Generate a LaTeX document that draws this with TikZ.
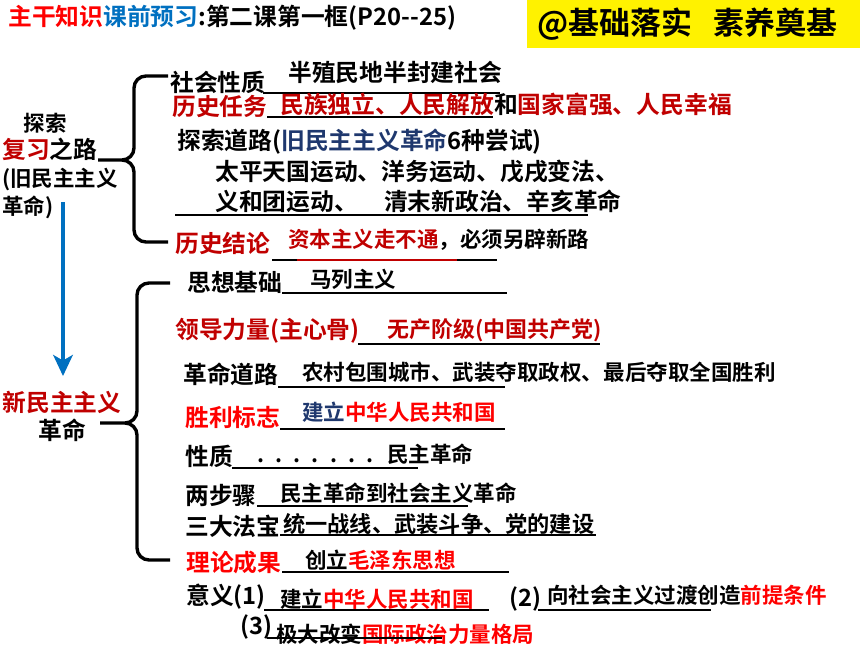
\documentclass[tikz,border=0pt]{standalone}
\usepackage{fontspec}
\setmainfont{Noto Sans CJK SC}[BoldFont={* Bold}]
\usetikzlibrary{arrows.meta}

\definecolor{keyred}{RGB}{192,0,0}
\definecolor{hotred}{RGB}{255,0,0}
\definecolor{lessonblue}{RGB}{0,112,192}
\definecolor{oldblue}{RGB}{31,56,110}

\tikzset{
  topic/.style={anchor=west, inner sep=0pt, font=\bfseries\fontsize{16.9}{19.9}\selectfont},
  answer/.style={anchor=west, inner sep=0pt, font=\bfseries\fontsize{15.3}{18}\selectfont},
  blankline/.style={line width=1.4pt},
  bracket/.style={line width=2.4pt, line join=round},
  downarrow/.style={lessonblue, line width=2.2pt, -{Stealth[length=15pt, width=14pt, inset=4pt]}},
}

\begin{document}
\begin{tikzpicture}[x=0.025cm, y=-0.025cm]
\useasboundingbox (0,0) rectangle (860,645);

% header
\node [topic] (title) at (8,18) {{\color{hotred}主干知识}{\color{lessonblue}课前预习}:第二课第一框(P20-{}-25)};
\fill [yellow] (527,0) rectangle (860,48);
\node [topic, font=\bfseries\fontsize{22}{26}\selectfont] (motto) at (537,24) {@基础落实\hspace{0.7em}素养奠基};

% left side
\node [topic, align=left] (oldroad) at (2,166) {\hspace*{0.9em}{\fontsize{15.3}{18}\selectfont 探索}\\{\color{keyred}复习}之路\\{\fontsize{15.3}{18}\selectfont (旧民主主义}\\{\fontsize{15.3}{18}\selectfont 革命)}};
\coordinate (arrowtop) at (63,202);
\coordinate (arrowtip) at (63,376);
\draw [downarrow] (arrowtop) -- (arrowtip);
\node [topic, anchor=center, align=center] (newroad) at (62,416) {{\color{keyred}新民主主义}\\革命};

% brackets
\draw [bracket] (168,76) -- (146,76) to[out=180,in=90] (134,88) -- (134,148)
  to[out=-90,in=0] (122,160) -- (98,160);
\draw [bracket] (122,160) to[out=0,in=90] (134,172) -- (134,230)
  to[out=-90,in=180] (146,242) -- (168,242);
\draw [bracket] (170,283) -- (149,283) to[out=180,in=90] (137,295) -- (137,411)
  to[out=-90,in=0] (125,423) -- (100,423);
\draw [bracket] (125,423) to[out=0,in=90] (137,435) -- (137,548)
  to[out=-90,in=180] (149,560) -- (170,560);

% old democratic revolution
\node [topic] (nature) at (170,82) {社会性质};
\node [topic] (natureans) at (288,72) {半殖民地半封建社会};
\draw [blankline] (263,93) -- (500,93);
\node [topic, keyred] (task) at (172,106) {历史任务};
\node [topic] (taskans) at (280,104) {{\color{keyred}民族独立、人民解放}和{\color{keyred}国家富强、人民幸福}};
\draw [blankline] (267,117) -- (493,117);
\node [topic] (explore) at (177,142) {探索道路({\color{oldblue}旧民主主义革命}6种尝试)};
\node [topic] (tries1) at (215,172) {太平天国运动、洋务运动、戊戌变法、};
\node [topic] (tries2) at (215,201) {义和团运动、\hspace{1.1em}清末新政治、辛亥革命};
\draw [blankline] (175,215) -- (588,215);
\node [topic, keyred] (lesson) at (175,243) {历史结论};
\node [answer] (lessonans) at (288,240) {{\color{keyred}资本主义走不通}，必须另辟新路};
\draw [blankline] (272,260) -- (497,260);
\draw [blankline, keyred] (297,260) -- (457,260);

% new democratic revolution
\node [topic] (basis) at (187,282) {思想基础};
\node [answer] (basisans) at (310,279) {马列主义};
\draw [blankline] (282,293) -- (507,293);
\node [topic, keyred] (leader) at (175,331) {领导力量(主心骨)};
\node [answer, keyred, font=\bfseries\fontsize{15.6}{18}\selectfont] (leaderans) at (387,330) {无产阶级(中国共产党)};
\draw [blankline] (358,344) -- (600,344);
\node [topic] (path) at (183,374) {革命道路};
\node [answer] (pathans) at (302,372) {农村包围城市、武装夺取政权、最后夺取全国胜利};
\draw [blankline] (278,387) -- (505,387);
\node [topic, hotred] (victory) at (185,417) {胜利标志};
\node [answer] (victoryans) at (302,412) {{\color{oldblue}建立}{\color{hotred}中华人民共和国}};
\draw [blankline] (280,429) -- (505,429);
\node [topic] (kind) at (185,456) {性质};
\node [answer] (dots) at (257,461) {.\hspace{0.52em}.\hspace{0.52em}.\hspace{0.52em}.\hspace{0.52em}.\hspace{0.52em}.\hspace{0.52em}.};
\node [answer] (kindans) at (387,454) {民主革命};
\draw [blankline] (232,468) -- (418,468);
\node [topic] (steps) at (185,495) {两步骤};
\node [answer] (stepsans) at (280,493) {民主革命到社会主义革命};
\draw [blankline] (257,506) -- (468,506);
\node [topic] (weapons) at (185,526) {三大法宝};
\node [answer, font=\bfseries\fontsize{15.8}{18}\selectfont] (weaponsans) at (283,524) {统一战线、武装斗争、党的建设};
\draw [blankline] (280,535) -- (596,535);
\node [topic, hotred] (theory) at (186,562) {理论成果};
\node [answer] (theoryans) at (305,560) {创立{\color{hotred}毛泽东思想}};
\draw [blankline] (282,572) -- (509,572);
\node [topic] (meaning) at (186,597) {意义(1)};
\node [answer] (meaning1) at (280,599) {建立{\color{hotred}中华人民共和国}};
\draw [blankline] (264,610) -- (489,610);
\node [topic] (second) at (509,599) {(2)};
\node [answer] (meaning2) at (547,595) {向社会主义过渡创造{\color{hotred}前提条件}};
\draw [blankline] (538,610) -- (711,610);
\node [topic] (third) at (240,627) {(3)};
\node [answer] (meaning3) at (276,634) {极大改变{\color{hotred}国际政治力量格局}};
\draw [blankline] (267,638) -- (442,638);
\end{tikzpicture}
\end{document}
